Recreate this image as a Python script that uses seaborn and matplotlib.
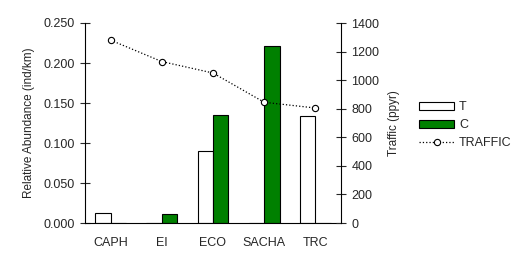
import pandas as pd
import numpy as np
import seaborn as sns
import matplotlib.pyplot as plt
from matplotlib.patches import Patch
from matplotlib.lines import Line2D
from matplotlib.ticker import FormatStrFormatter, MultipleLocator

# ---------- data ----------
sites = ["CAPH", "EI", "ECO", "SACHA", "TRC"]
abund_T = [0.012, 0.0, 0.090, 0.0, 0.134]
abund_C = [0.0, 0.011, 0.135, 0.221, 0.0]
traffic = [1280, 1130, 1050, 845, 805]

groups = ["T", "C"]
colors = {"T": "white", "C": "#008000"}

df = pd.DataFrame({
    "site": sites * 2,
    "group": ["T"] * len(sites) + ["C"] * len(sites),
    "abund": abund_T + abund_C,
})
df_traffic = pd.DataFrame({"site": sites, "traffic": traffic})

sns.set_style("white")
plt.rcParams['font.family'] = ['Liberation Sans', 'DejaVu Sans']
plt.rcParams['font.size'] = 9

fig = plt.figure(figsize=(5.29, 2.64), dpi=100)
ax = fig.add_axes([85 / 529, 1 - 223 / 264, 256 / 529, 200 / 264])

sns.barplot(data=df, x="site", y="abund", hue="group", order=sites,
            hue_order=groups, palette=colors, width=0.6, saturation=1, ax=ax,
            edgecolor="black", linewidth=0.8, legend=False)

ax2 = ax.twinx()
sns.pointplot(data=df_traffic, x="site", y="traffic", order=sites, ax=ax2,
              color="black", linestyles=":", markers="o", errorbar=None,
              markersize=4.5, markerfacecolor="white", markeredgewidth=0.8,
              linewidth=0.9)

# axes limits / ticks
ax.set_xlim(-0.5, len(sites) - 0.5)
ax.set_ylim(0, 0.25)
ax.yaxis.set_major_locator(MultipleLocator(0.05))
ax.yaxis.set_major_formatter(FormatStrFormatter("%.3f"))
ax2.set_ylim(0, 1400)
ax2.yaxis.set_major_locator(MultipleLocator(200))

ax.set_xticks(range(len(sites)))
ax.set_xticklabels(sites)
ax.set_xticks(np.arange(-0.5, len(sites)), minor=True)
ax.tick_params(axis="x", which="major", length=0, pad=10)
ax.tick_params(axis="x", which="minor", direction="inout", length=8, width=0.8)
ax.tick_params(axis="y", direction="inout", length=7, width=0.8, left=True, pad=4)
ax2.tick_params(axis="y", direction="inout", length=7, width=0.8, right=True, pad=4)

ax.set_xlabel("")
ax.set_ylabel("Relative Abundance (ind/km)", fontsize=8.5, labelpad=6)
ax2.set_xlabel("")
ax2.set_ylabel("Traffic (ppyr)", fontsize=8.5, labelpad=6)

for a in (ax, ax2):
    a.spines["top"].set_visible(False)
    for s in a.spines.values():
        s.set_linewidth(0.8)
        s.set_color("black")
ax.spines["right"].set_visible(False)
ax2.spines["left"].set_visible(False)
ax2.spines["bottom"].set_visible(False)

handles = [
    Patch(facecolor="white", edgecolor="black", linewidth=0.8, label="T"),
    Patch(facecolor="#008000", edgecolor="black", linewidth=0.8, label="C"),
    Line2D([], [], color="black", linestyle=":", marker="o", markersize=4.5,
           markerfacecolor="white", markeredgewidth=0.8, linewidth=0.9,
           label="TRAFFIC"),
]
fig.legend(handles=handles, loc="upper left", bbox_to_anchor=(414 / 529, 1 - 96 / 264),
           frameon=False, handlelength=2.8, handleheight=0.6, labelspacing=0.5,
           handletextpad=0.4, fontsize=9, borderaxespad=0)

plt.savefig("out.png", dpi=100)
